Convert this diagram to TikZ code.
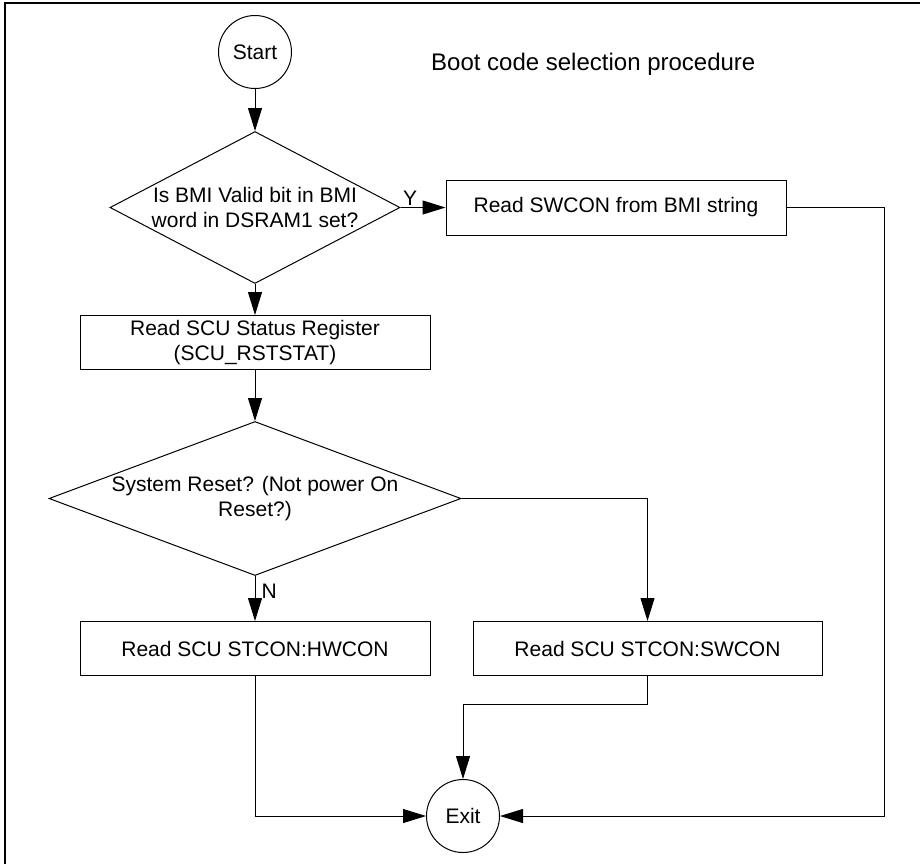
\documentclass[tikz,border=0pt]{standalone}
\usepackage{fontspec}
\setmainfont{Liberation Sans}
\usetikzlibrary{positioning,arrows.meta,shapes.geometric,calc}

\begin{document}
\begin{tikzpicture}[
  term/.style  = {draw, circle, minimum size=36.5pt, inner sep=0pt},
  proc/.style  = {draw, rectangle, minimum width=175pt, minimum height=27pt,
                  inner sep=2pt, align=center},
  decide/.style = {draw, diamond, inner sep=0pt},
  arr/.style   = {-{Triangle[length=11.5pt,width=7pt]}, line width=0.5pt},
  lbl/.style   = {inner sep=1pt},
  font=\fontsize{10.5}{12.5}\selectfont,
  line width=0.5pt
]
  \useasboundingbox (0,0) rectangle (460pt,-432pt);
  % frame
  \draw[line width=0.9pt] (460pt,-1.5pt) -- (2.5pt,-1.5pt) -- (2.5pt,-432pt);

  \node[term] (start) at (127.5pt,-26pt) {Start};
  \node[anchor=west, font=\fontsize{12}{14}\selectfont] (title) at (212pt,-32pt) {Boot code selection procedure};

  \node[decide, minimum width=145pt, minimum height=76pt, below=21pt of start,
        label={[align=center]center:Is BMI Valid bit in BMI\\word in DSRAM1 set?}] (bmiok) {};
  \node[proc, minimum width=170pt, minimum height=27.5pt, right=22.5pt of bmiok] (bmird) {Read SWCON from BMI string};
  \node[proc, below=15.5pt of bmiok] (rstat) {Read SCU Status Register\\(SCU\_RSTSTAT)};
  \node[decide, minimum width=206pt, minimum height=77pt, below=25.5pt of rstat,
        label={[align=center]center:System Reset? (Not power On\\Reset?)}] (sysrst) {};
  \node[proc, below=22.5pt of sysrst] (hwcon) {Read SCU STCON:HWCON};
  \node[proc, minimum width=174.5pt, right=21pt of hwcon] (swcon) {Read SCU STCON:SWCON};
  \node[term] (exit) at (231.5pt,-408pt) {Exit};

  \draw[arr] (start) -- (bmiok);
  \draw[arr] (bmiok.east) -- node[lbl, pos=0, anchor=south west] {Y} (bmird.west);
  \draw[arr] (bmiok) -- (rstat);
  \draw[arr] (rstat) -- (sysrst);
  \draw[arr] (sysrst.south) -- node[lbl, pos=0, anchor=north west, xshift=2pt, yshift=-3pt] {N} (hwcon.north);
  \draw[arr] (sysrst.east) -| (swcon.north);
  \draw[arr] (bmird.east) -- ++(49pt,0) |- (exit.east);
  \draw[arr] (hwcon.south) |- (exit.west);
  \draw[arr] (swcon.south) -- ++(0,-14pt) -| (exit.north);
\end{tikzpicture}
\end{document}
